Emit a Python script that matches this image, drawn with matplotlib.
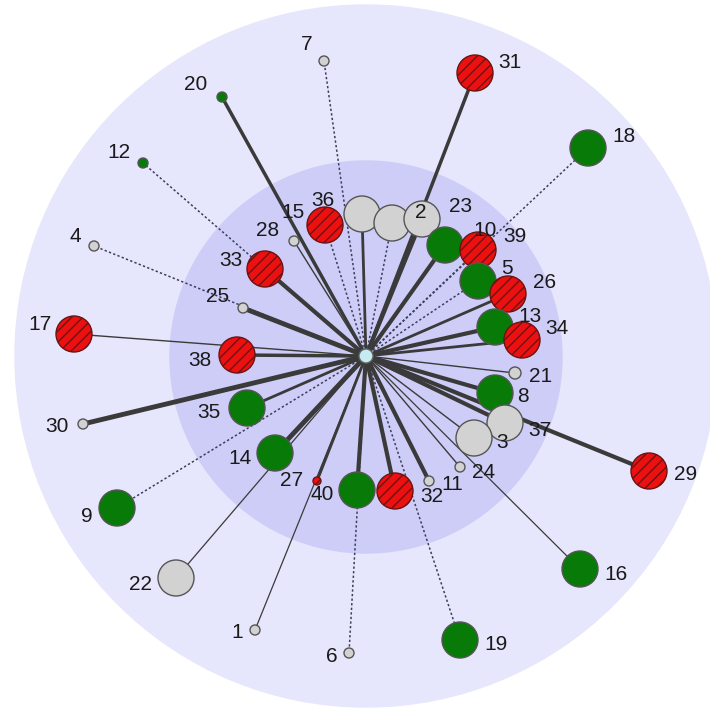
import numpy as np
import matplotlib.pyplot as plt
import matplotlib.patches as mpatches

plt.rcParams['font.family'] = ['Liberation Sans', 'DejaVu Sans']
plt.rcParams['hatch.linewidth'] = 1.0

# nodos: id, posicion (pixeles), tipo, tamano
ids = [7, 20, 31, 18, 12, 4, 17, 30, 9, 22, 1, 6, 19, 16, 29,
       15, 36, 23, 2, 10, 39, 5, 26, 13, 34, 21, 8, 37, 3, 24, 11, 32, 40, 27, 14, 35, 38, 25, 33, 28]
xs = [324, 222, 475, 588, 143, 94, 74, 83, 117, 176, 255, 349, 460, 580, 649,
      325, 362, 392, 422, 445, 478, 478, 508, 495, 522, 515, 495, 505, 474, 460, 429, 395, 357, 317, 275, 247, 237, 243, 265, 294]
ys = [61, 97, 73, 148, 163, 246, 334, 424, 508, 578, 630, 653, 640, 569, 471,
      225, 214, 223, 219, 245, 250, 281, 294, 327, 340, 373, 393, 423, 438, 467, 481, 491, 490, 481, 453, 408, 355, 308, 269, 241]
tipo = ['g', 'v', 'r', 'v', 'v', 'g', 'r', 'g', 'v', 'g', 'g', 'g', 'v', 'v', 'r',
        'r', 'g', 'g', 'g', 'v', 'r', 'v', 'r', 'v', 'r', 'g', 'v', 'g', 'g', 'g', 'g', 'r', 'v', 'r', 'v', 'v', 'r', 'g', 'r', 'g']
radio = [5, 5, 18, 18, 5, 5, 18, 5, 18, 18, 5, 5, 18, 18, 18,
         18, 18, 18, 18, 18, 18, 18, 18, 18, 18, 6, 18, 18, 18, 5, 5, 18, 18, 4, 18, 18, 18, 5, 18, 5]
# aristas: estilo (0 = solida, 1 = punteada) y grosor
punteada = [1, 0, 0, 1, 1, 1, 0, 0, 1, 0, 0, 1, 1, 0, 0,
            1, 0, 1, 0, 0, 1, 1, 0, 0, 0, 0, 0, 0, 0, 0, 0, 0, 0, 0, 0, 0, 0, 0, 0, 0]
grosor = [1.1, 2.5, 2.5, 1.1, 1.1, 1.1, 1.0, 3.5, 1.1, 0.9, 0.9, 1.1, 1.1, 0.9, 3.0,
          1.1, 2.0, 1.1, 3.0, 3.0, 1.1, 1.6, 2.0, 3.0, 2.0, 1.0, 3.0, 3.0, 1.0, 1.0, 3.0, 3.0, 3.0, 2.0, 3.5, 2.0, 2.5, 3.5, 3.0, 1.0]
# etiquetas
lx = [307, 196, 510, 624, 119, 75, 40, 57, 87, 140, 237, 332, 496, 616, 686,
      293, 323, 461, 421, 485, 515, 507, 545, 530, 557, 541, 523, 540, 502, 484, 452, 432, 322, 292, 240, 209, 200, 218, 231, 268]
ly = [45, 85, 62, 137, 152, 236, 324, 427, 517, 584, 633, 657, 645, 575, 475,
      213, 200, 207, 212, 230, 237, 268, 282, 316, 329, 376, 396, 430, 442, 472, 485, 497, 494, 481, 458, 412, 361, 297, 260, 230]

centro = (366, 356)
colores = {'r': '#ec1010', 'v': '#087a08', 'g': '#d2d2d2'}

fig = plt.figure(figsize=(7.10, 7.08), dpi=100)
ax = fig.add_axes([0, 0, 1, 1])
ax.set_xlim(0, 710)
ax.set_ylim(708, 0)
ax.set_aspect('equal')
ax.axis('off')

# circulos de fondo
ax.add_patch(mpatches.Circle((366, 356), 351, color='#e6e6fc', zorder=0))
ax.add_patch(mpatches.Circle((366, 357), 196, color='#cdcdf7', zorder=1))

for i in range(len(ids)):
    if punteada[i]:
        ax.plot([centro[0], xs[i]], [centro[1], ys[i]], color='#3d3d5c',
                lw=1.1, ls=(0, (1.5, 1.5)), zorder=2)
    else:
        ax.plot([centro[0], xs[i]], [centro[1], ys[i]], color='#3a3a3a',
                lw=grosor[i], solid_capstyle='butt', zorder=2)

for i in range(len(ids)):
    t = tipo[i]
    if t == 'r':
        c = mpatches.Circle((xs[i], ys[i]), radio[i], facecolor=colores[t],
                            edgecolor='#6a1414', hatch='///', lw=1.0, zorder=3)
    else:
        c = mpatches.Circle((xs[i], ys[i]), radio[i], facecolor=colores[t],
                            edgecolor='#555555', lw=1.0, zorder=3)
    ax.add_patch(c)
    ax.text(lx[i], ly[i], str(ids[i]), fontsize=15, color='#1a1a1a',
            ha='center', va='center', zorder=4)

ax.add_patch(mpatches.Circle(centro, 7, facecolor='#c4ecf2', edgecolor='#666666', lw=1.0, zorder=5))

plt.savefig('out.png', dpi=100)
